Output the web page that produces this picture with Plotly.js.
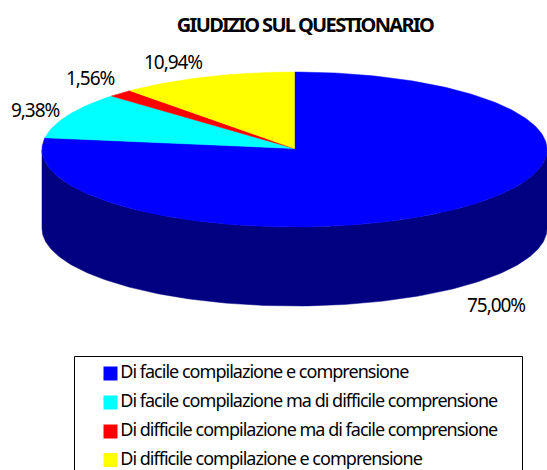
<!DOCTYPE html>
<html><head><meta charset="utf-8">
<script src="https://cdn.plot.ly/plotly-3.0.1.min.js"></script>
<style>
html,body{margin:0;padding:0;background:#fff;overflow:hidden}
#c{width:547px;height:470px}
.annotation-text{letter-spacing:-1.05px}
.textpoint text{letter-spacing:-0.98px}
.gtitle{letter-spacing:-1.65px}
</style></head><body><div id="c"></div>
<script>
const categories = ["Di facile compilazione e comprensione","Di facile compilazione ma di difficile comprensione","Di difficile compilazione ma di facile comprensione","Di difficile compilazione e comprensione"];
const values = [75.00, 9.38, 1.56, 10.94];
const colors = ["#0000ff","#00ffff","#ff0000","#ffff00"];
const sideColor = "#000080";
const titleText = "GIUDIZIO SUL QUESTIONARIO";
const labelAnchors = [[496,305],[35,110],[90,78],[173,62]];
const legendY = [373.5,402.5,431.5,460];

// Pie geometry on a pixel-like axis
const cx=294.5, cy=149.5, rx=252.5, ry=77.5, depth=79;
const hubY=148.5;
function rim(deg,dy){
  const t=deg*Math.PI/180;
  return [cx+rx*Math.sin(t),cy-ry*Math.cos(t)+(dy||0)];
}
const traces=[];
// side wall: front half of the rim
{
  const xs=[],ys=[];
  for(let d=90;d<=270;d+=1){const p=rim(d,0);xs.push(p[0]);ys.push(p[1]);}
  for(let d=270;d>=90;d-=1){const p=rim(d,depth);xs.push(p[0]);ys.push(p[1]);}
  traces.push({type:"scatter",mode:"lines",x:xs,y:ys,fill:"toself",fillcolor:sideColor,line:{width:0.5,color:sideColor},hoverinfo:"skip",showlegend:false});
}
// top face slices, clockwise from top, scaled to the sum of the values
let cum=0;
const total=values.reduce((a,b)=>a+b,0);
values.forEach((v,i)=>{
  const start=cum/total*360, end=(cum+v)/total*360;
  cum+=v;
  const xs=[cx],ys=[hubY];
  const n=Math.max(2,Math.ceil(end-start));
  for(let k=0;k<=n;k++){const p=rim(start+(end-start)*k/n);xs.push(p[0]);ys.push(p[1]);}
  xs.push(cx);ys.push(hubY);
  traces.push({type:"scatter",mode:"lines",x:xs,y:ys,fill:"toself",fillcolor:colors[i],line:{width:0.5,color:colors[i]},hoverinfo:"skip",showlegend:false,name:categories[i]});
});
// legend rows
traces.push({type:"scatter",mode:"markers+text",
  x:categories.map(()=>110.5),y:legendY,
  marker:{symbol:"square",size:14,color:colors,line:{width:0}},
  text:categories,textposition:"middle right",
  textfont:{family:"Noto Sans, Open Sans, sans-serif",size:18,color:"#000"},
  hoverinfo:"skip",showlegend:false});

const fmt=v=>v.toFixed(2).replace(".",",")+"%";
const annotations=values.map((v,i)=>({x:labelAnchors[i][0],y:labelAnchors[i][1],xref:"x",yref:"y",text:fmt(v),showarrow:false,xanchor:"center",yanchor:"middle",font:{family:"Noto Sans, Open Sans, sans-serif",size:19,color:"#000"}}));

const layout={
  width:547,height:470,margin:{l:0,r:0,t:0,b:0},
  paper_bgcolor:"#fff",plot_bgcolor:"#fff",showlegend:false,
  title:{text:"<b>"+titleText+"</b>",x:305/547,xanchor:"center",y:1-25/470,yanchor:"middle",font:{family:"Noto Sans, Open Sans, sans-serif",size:20,color:"#000"}},
  xaxis:{range:[0,547],visible:false,fixedrange:true},
  yaxis:{range:[470,0],visible:false,fixedrange:true},
  shapes:[{type:"rect",xref:"x",yref:"y",x0:74.5,x1:522.5,y0:356.5,y1:480,line:{color:"#000",width:1},fillcolor:"rgba(0,0,0,0)",layer:"below"}],
  annotations
};
Plotly.newPlot("c",traces,layout,{staticPlot:true,displayModeBar:false});
</script></body></html>
